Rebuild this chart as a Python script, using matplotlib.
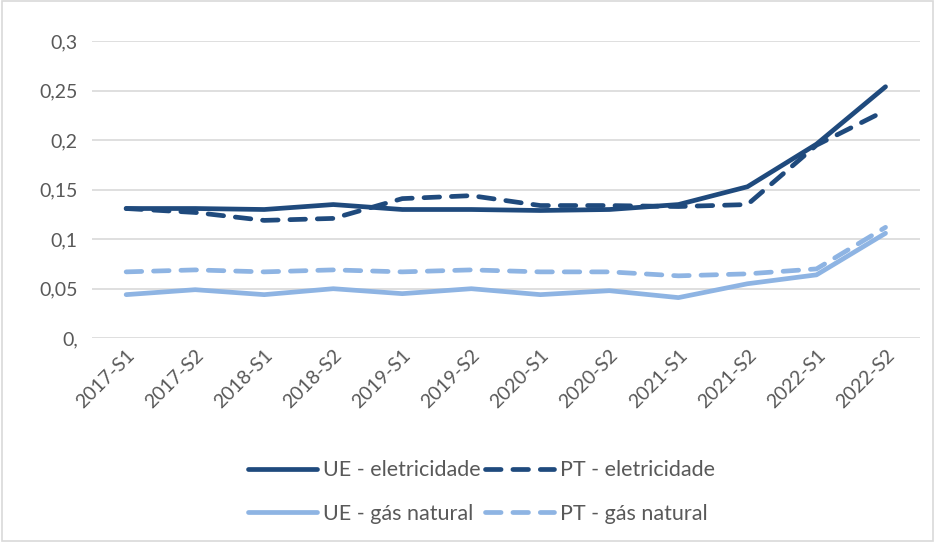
import matplotlib

matplotlib.use("Agg")
import matplotlib.pyplot as plt
from matplotlib.lines import Line2D
from matplotlib.patches import Rectangle

periods = ["2017-S1", "2017-S2", "2018-S1", "2018-S2", "2019-S1", "2019-S2",
           "2020-S1", "2020-S2", "2021-S1", "2021-S2", "2022-S1", "2022-S2"]
ue_elec = [0.131, 0.131, 0.130, 0.135, 0.130, 0.130, 0.129, 0.130, 0.135, 0.153, 0.196, 0.254]
pt_elec = [0.131, 0.127, 0.119, 0.121, 0.141, 0.144, 0.134, 0.134, 0.133, 0.135, 0.195, 0.230]
ue_gas = [0.044, 0.049, 0.044, 0.050, 0.045, 0.050, 0.044, 0.048, 0.041, 0.055, 0.064, 0.106]
pt_gas = [0.067, 0.069, 0.067, 0.069, 0.067, 0.069, 0.067, 0.067, 0.063, 0.065, 0.070, 0.112]
yticks = [0, 0.05, 0.1, 0.15, 0.2, 0.25, 0.3]
ytick_labels = ["0,", "0,05", "0,1", "0,15", "0,2", "0,25", "0,3"]

DARK = "#1F4A7D"
LIGHT = "#8EB4E3"
TXT = "#595959"
plt.rcParams["font.family"] = ["Lato", "DejaVu Sans"]

fig = plt.figure(figsize=(9.35, 5.42), dpi=100)
ax = fig.add_axes([0.098, 0.376, 0.886, 0.548])

x = range(len(periods))
lw = 3.4
dash = (0, (3.3, 2.5))
kw = dict(lw=lw, solid_capstyle="round", dash_capstyle="round")
ax.plot(x, ue_gas, color=LIGHT, ls="-", label="UE - gás natural", **kw)
ax.plot(x, pt_gas, color=LIGHT, ls=dash, label="PT - gás natural", **kw)
ax.plot(x, ue_elec, color=DARK, ls="-", label="UE - eletricidade", **kw)
ax.plot(x, pt_elec, color=DARK, ls=dash, label="PT - eletricidade", **kw)

ax.set_xlim(-0.5, len(periods) - 0.5)
ax.set_ylim(0, 0.3)
ax.set_yticks(yticks)
ax.set_yticklabels(ytick_labels)
ax.set_xticks(list(x))
ax.set_xticklabels(periods, rotation=45, ha="right", rotation_mode="anchor")
ax.tick_params(length=0, labelsize=14, colors=TXT, pad=10)
ax.tick_params(axis="x", pad=6)
for s in ax.spines.values():
    s.set_visible(False)
ax.grid(axis="y", color="#D9D9D9", lw=1.2)
ax.set_axisbelow(True)

handles = [
    Line2D([], [], color=DARK, ls="-", **kw),
    Line2D([], [], color=LIGHT, ls="-", **kw),
    Line2D([], [], color=DARK, ls=dash, **kw),
    Line2D([], [], color=LIGHT, ls=dash, **kw),
]
labels = ["UE - eletricidade", "UE - gás natural", "PT - eletricidade", "PT - gás natural"]
fig.legend(handles, labels, ncol=2, loc="center", bbox_to_anchor=(0.515, 0.092),
           frameon=False, fontsize=15.5, labelcolor=TXT, handlelength=3.2,
           handletextpad=0.3, columnspacing=0.2, labelspacing=1.1)

fig.patches.append(Rectangle((0.002, 0.002), 0.996, 0.996, transform=fig.transFigure,
                             fill=False, edgecolor="#D9D9D9", lw=1.2))

fig.savefig("out.png", dpi=100)
